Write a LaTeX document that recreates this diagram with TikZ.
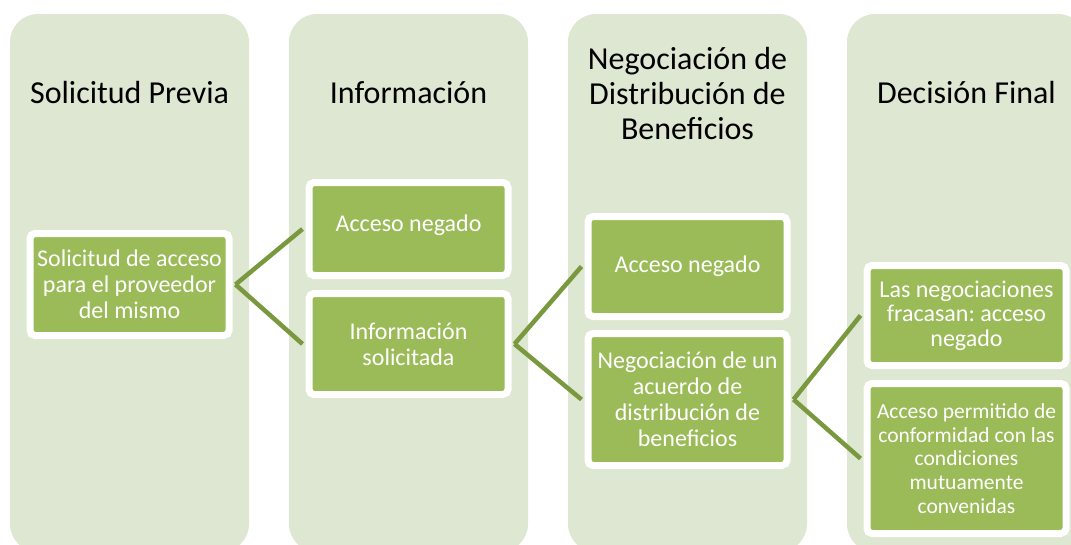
\documentclass[tikz,border=0pt]{standalone}
\usepackage{fontspec}
\setmainfont{Carlito}
\usetikzlibrary{shadows,backgrounds}
\definecolor{colbg}{RGB}{222,231,209}
\definecolor{boxgreen}{RGB}{155,187,89}
\definecolor{linkgreen}{RGB}{122,152,62}
\tikzset{
  header/.style={align=center,font=\fontsize{32}{35}\selectfont,text=black},
  stage/.style={draw=white,line width=7pt,fill=boxgreen,rounded corners=5pt,
    minimum width=199pt,inner sep=0pt,align=center,text=white,
    font=\fontsize{24}{26}\selectfont,
    drop shadow={opacity=0.35,shadow xshift=2pt,shadow yshift=-3pt}},
  small/.style={font=\fontsize{21.5}{23.7}\selectfont},
  link/.style={draw=linkgreen,line width=4.5pt}
}
\frenchspacing
\begin{document}
\begin{tikzpicture}[x=1pt,y=-1pt]
    \clip (0,0) rectangle (1071,544);
    \useasboundingbox (0,0) rectangle (1071,544);
    \node[header] (h1) at (129.5,93) {Solicitud Previa};
    \node[header] (h2) at (408.5,93) {Información};
    \node[header] (h3) at (687.5,94) {Negociación de\\Distribución de\\Beneficios};
    \node[header] (h4) at (966.5,93) {Decisión Final};
    \node[stage,minimum height=102pt] (req) at (129.5,284.5) {Solicitud de acceso\\para el proveedor\\del mismo};
    \node[stage,minimum height=93pt] (deny1) at (408.5,229) {Acceso negado\\[-14pt]};
    \node[stage,minimum height=101pt] (info) at (408.5,344) {Información\\solicitada};
    \node[stage,minimum height=100pt] (deny2) at (687.5,266.5) {Acceso negado};
    \node[stage,minimum height=132pt] (nego) at (687.5,399.5) {Negociación de un\\acuerdo de\\distribución de\\beneficios};
    \node[stage,font=\fontsize{24}{24.7}\selectfont,minimum height=100pt] (fail) at (966.5,315.5) {Las negociaciones\\fracasan: acceso\\negado};
    \node[stage,small,minimum height=150pt] (grant) at (966.5,458.5) {Acceso permitido de\\conformidad con las\\condiciones\\mutuamente\\convenidas};
    \begin{scope}[on background layer]
    \foreach \x in {10,289,568,847}
    \fill[colbg,rounded corners=28pt] (\x,14) rectangle (\x+239,552);
    \draw[link] ([xshift=3pt]req.east) -- ([xshift=-3pt]deny1.west);
    \draw[link] ([xshift=3pt]req.east) -- ([xshift=-3pt]info.west);
    \draw[link] ([xshift=3pt]info.east) -- ([xshift=-3pt]deny2.west);
    \draw[link] ([xshift=3pt]info.east) -- ([xshift=-3pt]nego.west);
    \draw[link] ([xshift=3pt]nego.east) -- ([xshift=-3pt]fail.west);
    \draw[link] ([xshift=3pt]nego.east) -- ([xshift=-3pt]grant.west);
    \end{scope}
  \end{tikzpicture}
\end{document}
